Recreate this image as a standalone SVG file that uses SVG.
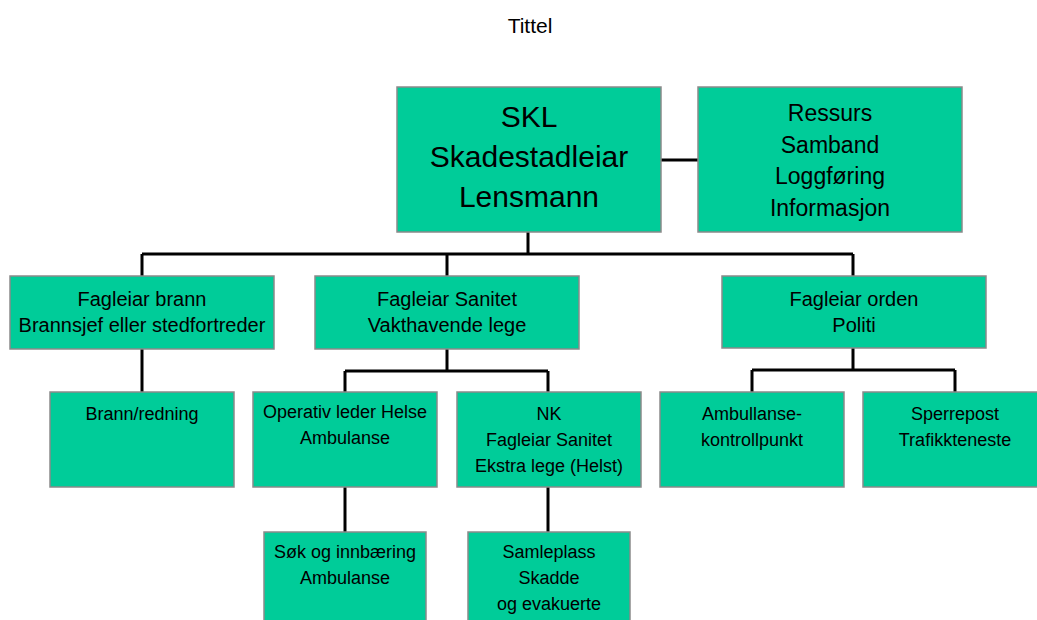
<svg xmlns="http://www.w3.org/2000/svg" width="1037" height="620" viewBox="0 0 1037 620">
<style>
.box{fill:#00CC99;stroke:#8a8a8a;stroke-width:1.5}
.t{font-family:"Liberation Sans",Arial,sans-serif;fill:#000;text-anchor:middle}
.l1{font-size:30px}
.l1b{font-size:23px}
.l2{font-size:20px}
.l3{font-size:18px}
.conn{stroke:#000;stroke-width:3;fill:none}
</style>
<rect x="0" y="0" width="1037" height="620" fill="#fff"/>
<text class="t" x="530" y="33" font-size="21">Tittel</text>
<g id="connectors">
<path class="conn" d="M661 160H698"/>
<path class="conn" d="M528 232V254M142 254H853M142 254V276M447 254V276M853 254V276"/>
<path class="conn" d="M142 349V392"/>
<path class="conn" d="M447 349V371M345 371H548M345 371V392M548 371V392"/>
<path class="conn" d="M853 348V370M752 370H955M752 370V392M955 370V392"/>
<path class="conn" d="M345 487V532"/>
<path class="conn" d="M548 487V532"/>
</g>
<g id="skl">
<rect class="box" x="397" y="87" width="264" height="145"/>
<text class="t l1"><tspan x="529" y="127">SKL</tspan><tspan x="529" y="167">Skadestadleiar</tspan><tspan x="529" y="207">Lensmann</tspan></text>
</g>
<g id="ressurs">
<rect class="box" x="698" y="87" width="264" height="145"/>
<text class="t l1b"><tspan x="830" y="121">Ressurs</tspan><tspan x="830" y="152.5">Samband</tspan><tspan x="830" y="184">Loggføring</tspan><tspan x="830" y="215.5">Informasjon</tspan></text>
</g>
<g id="brann">
<rect class="box" x="10" y="276" width="264" height="73"/>
<text class="t l2"><tspan x="142" y="306">Fagleiar brann</tspan><tspan x="142" y="332">Brannsjef eller stedfortreder</tspan></text>
</g>
<g id="sanitet">
<rect class="box" x="315" y="276" width="264" height="73"/>
<text class="t l2"><tspan x="447" y="306">Fagleiar Sanitet</tspan><tspan x="447" y="332">Vakthavende lege</tspan></text>
</g>
<g id="orden">
<rect class="box" x="722" y="276" width="264" height="72"/>
<text class="t l2"><tspan x="854" y="306">Fagleiar orden</tspan><tspan x="854" y="332">Politi</tspan></text>
</g>
<g id="brannredning">
<rect class="box" x="50" y="392" width="184" height="95"/>
<text class="t l3"><tspan x="142" y="420">Brann/redning</tspan></text>
</g>
<g id="operativ">
<rect class="box" x="253" y="392" width="184" height="95"/>
<text class="t l3"><tspan x="345" y="418">Operativ leder Helse</tspan><tspan x="345" y="444">Ambulanse</tspan></text>
</g>
<g id="nk">
<rect class="box" x="457" y="392" width="184" height="95"/>
<text class="t l3"><tspan x="549" y="420">NK</tspan><tspan x="549" y="446">Fagleiar Sanitet</tspan><tspan x="549" y="472">Ekstra lege (Helst)</tspan></text>
</g>
<g id="ambullanse">
<rect class="box" x="660" y="392" width="184" height="95"/>
<text class="t l3"><tspan x="752" y="420">Ambullanse-</tspan><tspan x="752" y="446">kontrollpunkt</tspan></text>
</g>
<g id="sperrepost">
<rect class="box" x="863" y="392" width="186" height="95"/>
<text class="t l3"><tspan x="955" y="420">Sperrepost</tspan><tspan x="955" y="446">Trafikkteneste</tspan></text>
</g>
<g id="sok">
<rect class="box" x="264" y="532" width="162" height="96"/>
<text class="t l3"><tspan x="345" y="558">Søk og innbæring</tspan><tspan x="345" y="584">Ambulanse</tspan></text>
</g>
<g id="samleplass">
<rect class="box" x="468" y="532" width="162" height="96"/>
<text class="t l3"><tspan x="549" y="558">Samleplass</tspan><tspan x="549" y="584">Skadde</tspan><tspan x="549" y="610">og evakuerte</tspan></text>
</g>
</svg>
